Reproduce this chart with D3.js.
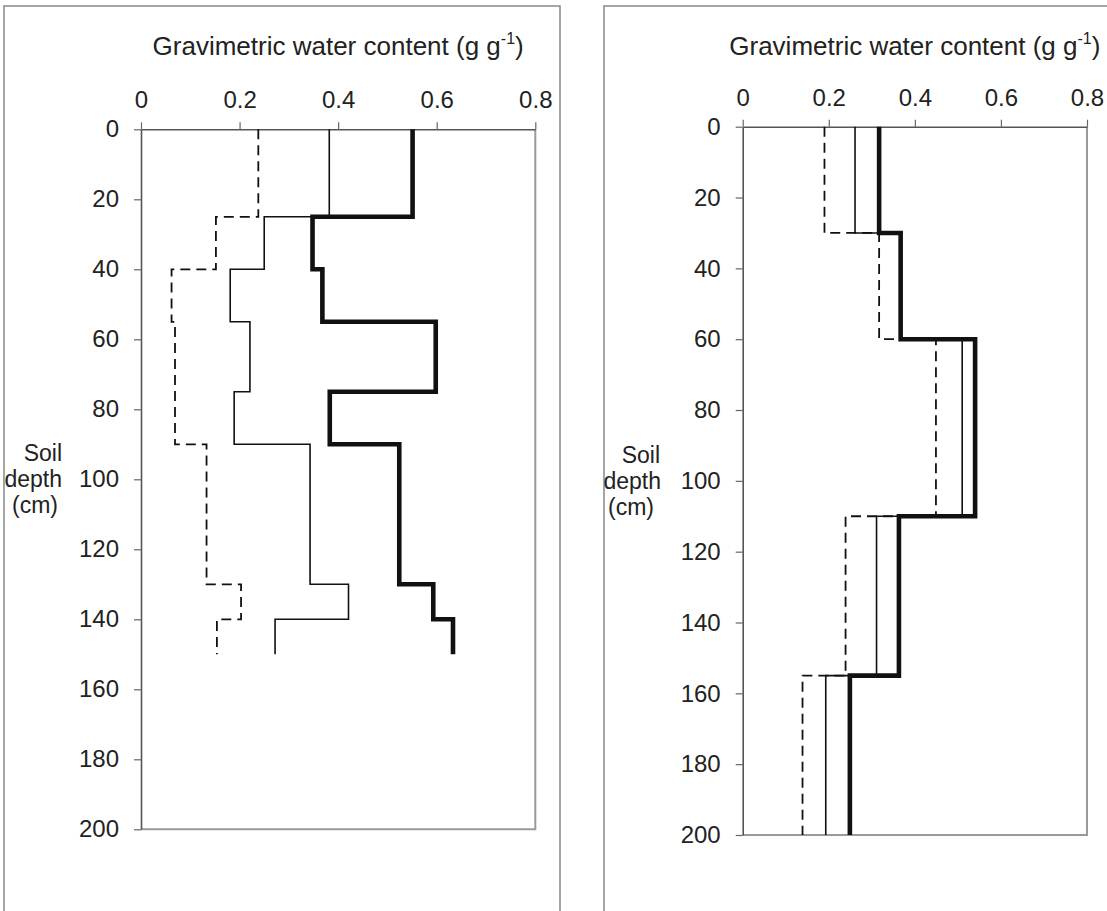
<!DOCTYPE html>
<html>
<head>
<meta charset="utf-8">
<script src="https://cdn.jsdelivr.net/npm/d3@7"></script>
<style>
  body { margin: 0; background: #fff; }
  text { font-family: "Liberation Sans", Arial, sans-serif; fill: #222; }
</style>
</head>
<body>
<script>
// layer boundaries (cm) and water content per layer, left profile
const leftDepths = [0, 25, 40, 55, 75, 90, 130, 140, 150];
const leftDashed = [0.238, 0.152, 0.062, 0.069, 0.069, 0.133, 0.203, 0.154];
const leftThin = [0.382, 0.250, 0.181, 0.221, 0.189, 0.343, 0.421, 0.272];
const leftThick = [0.551, 0.348, 0.368, 0.598, 0.383, 0.524, 0.593, 0.633];

// right profile
const rightDepths = [0, 30, 60, 110, 155, 200];
const rightDashed = [0.190, 0.317, 0.449, 0.239, 0.139];
const rightThin = [0.261, 0.365, 0.510, 0.311, 0.193];
const rightThick = [0.317, 0.367, 0.540, 0.363, 0.249];

const xTicks = [0, 0.2, 0.4, 0.6, 0.8];
const yTicks = [0, 20, 40, 60, 80, 100, 120, 140, 160, 180, 200];
const xTitle = "Gravimetric water content (g g";
const yTitle = ["Soil", "depth", "(cm)"];

const width = 1107;
const height = 911;

let svg = d3
  .select("body")
  .append("svg")
  .attr("width", width)
  .attr("height", height);

// each layer gives a vertical run, consecutive runs are joined by horizontals
let stepPoints = (depths, vals) =>
  vals.flatMap((v, i) => [[v, depths[i]], [v, depths[i + 1]]]);

let panel = (opt, depths, dashed, thin, thick) => {
  // outer box
  svg
    .append("rect")
    .attr("x", opt.fx)
    .attr("y", 6)
    .attr("width", opt.fw)
    .attr("height", 930)
    .attr("fill", "none")
    .attr("stroke", "#8f8f8f")
    .attr("stroke-width", 1.6);

  let x = d3.scaleLinear().domain([0, 0.8]).range([opt.x0, opt.x1]);
  let y = d3.scaleLinear().domain([0, 200]).range([opt.y0, opt.y1]);

  // right and bottom plot border
  svg
    .append("path")
    .attr("d", `M${opt.x1},${opt.y0}V${opt.y1}H${opt.x0}`)
    .attr("fill", "none")
    .attr("stroke", "#9a9a9a")
    .attr("stroke-width", 2);

  let xAxis = svg
    .append("g")
    .attr("transform", `translate(0,${opt.y0})`)
    .call(
      d3.axisTop(x).tickValues(xTicks).tickFormat(d3.format("")).tickSize(7).tickSizeOuter(0).tickPadding(14)
    );

  let yAxis = svg
    .append("g")
    .attr("transform", `translate(${opt.x0},0)`)
    .call(
      d3.axisLeft(y).tickValues(yTicks).tickSize(7).tickSizeOuter(0).tickPadding(15)
    );

  [xAxis, yAxis].forEach(a => {
    a.select(".domain").attr("stroke", "#555").attr("stroke-width", 1.6);
    a.selectAll(".tick line").attr("stroke", "#666").attr("stroke-width", 1.2);
    a.selectAll(".tick text")
      .attr("font-size", 24)
      .attr("fill", "#222")
      .style("font-family", '"Liberation Sans", Arial, sans-serif');
  });

  // title over the top axis
  let title = svg
    .append("text")
    .attr("x", (opt.x0 + opt.x1) / 2)
    .attr("y", 55)
    .attr("text-anchor", "middle")
    .attr("font-size", 26)
    .text(xTitle);
  title.append("tspan").attr("font-size", 16).attr("dy", -11).text("-1");
  title.append("tspan").attr("dy", 11).text(")");

  // depth label, three lines
  yTitle.forEach((t, i) => {
    svg
      .append("text")
      .attr("x", opt.yl[i])
      .attr("y", y(100) + 8 + (i - 1) * 26)
      .attr("text-anchor", "end")
      .attr("font-size", 23)
      .text(t);
  });

  let line = d3
    .line()
    .x(d => x(d[0]))
    .y(d => y(d[1]));

  let series = [
    { vals: dashed, w: 1.8, dash: "10,6" },
    { vals: thin, w: 1.6, dash: null },
    { vals: thick, w: 4.6, dash: null }
  ];

  series.forEach(s => {
    svg
      .append("path")
      .attr("d", line(stepPoints(depths, s.vals)))
      .attr("fill", "none")
      .attr("stroke", "#111")
      .attr("stroke-width", s.w)
      .attr("stroke-dasharray", s.dash)
      .attr("stroke-linejoin", "miter");
  });
};

panel(
  { fx: 4, fw: 556, x0: 141, x1: 535.3, y0: 129.3, y1: 829.3, yl: [62, 62, 58] },
  leftDepths, leftDashed, leftThin, leftThick
);

panel(
  { fx: 604, fw: 520, x0: 742.7, x1: 1087, y0: 126.7, y1: 835, yl: [660, 661, 654] },
  rightDepths, rightDashed, rightThin, rightThick
);
</script>
</body>
</html>
